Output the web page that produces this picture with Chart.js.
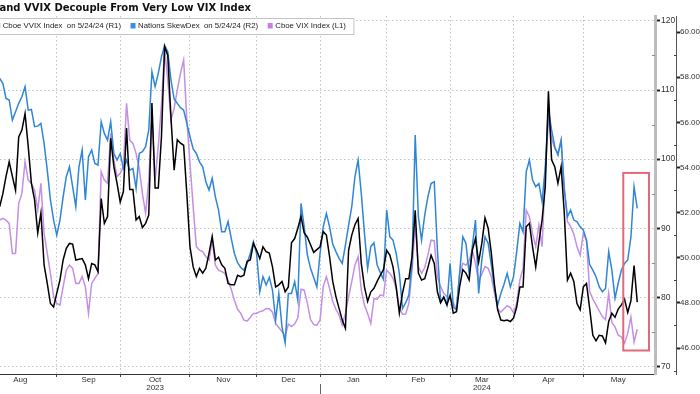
<!DOCTYPE html>
<html>
<head>
<meta charset="utf-8">
<script src="https://cdn.jsdelivr.net/npm/chart.js@4.4.1/dist/chart.umd.min.js"></script>
<style>
  html, body { margin: 0; padding: 0; background: #fff; }
  #wrap { width: 700px; height: 394px; overflow: hidden; }
</style>
</head>
<body>
<div id="wrap"><canvas id="chart" width="700" height="394"></canvas></div>
<script>
// x = trading-day number, 0 = Aug 1 2023
const firstDay = 5;
const monthStarts = [0, 23, 43, 65, 86, 106, 127, 147, 167, 189, 211];
const monthNames = ['Aug', 'Sep', 'Oct', 'Nov', 'Dec', 'Jan', 'Feb', 'Mar', 'Apr', 'May'];
const yearNames = { Oct: '2023', Mar: '2024' };
const r1Ticks = [70, 80, 90, 100, 110, 120];
const r2Ticks = [46, 48, 50, 52, 54, 56, 58, 60];

// Cboe VVIX Index (R1)
const vvix = [
  93.1, 95.0, 97.5, 99.6, 97.5, 95.5, 103.2, 104.2, 106.6, 101.8,
  96.5, 94.1, 89.3, 92.2, 84.7, 82.0, 79.1, 78.6, 80.6, 82.5,
  85.4, 87.1, 87.8, 87.7, 85.4, 85.5, 85.6, 84.7, 82.7, 84.9,
  84.7, 83.7, 94.3, 90.7, 91.7, 103.0, 98.9, 96.5, 93.8, 95.3,
  104.5, 95.6, 95.6, 91.2, 91.7, 90.1, 90.7, 91.9, 108.1, 95.8,
  95.8, 103.2, 116.3, 115.0, 106.0, 98.4, 102.8, 102.3, 102.0, 95.0,
  87.3, 84.4, 83.0, 84.2, 83.5, 84.2, 86.4, 88.8, 85.4, 85.8,
  84.7, 84.2, 82.0, 81.8, 81.8, 83.2, 83.0, 83.2, 85.2, 85.4,
  87.8, 86.8, 85.6, 87.3, 86.6, 86.4, 84.4, 81.5, 81.8, 82.3,
  80.8, 81.5, 87.9, 88.5, 90.0, 91.7, 89.3, 88.7, 87.6, 86.5,
  86.9, 87.3, 89.5, 89.0, 85.9, 82.3, 80.1, 78.4, 76.7, 75.5,
  86.8, 89.0, 90.5, 91.4, 84.9, 81.5, 79.4, 80.8, 81.3, 82.3,
  83.2, 84.0, 86.8, 86.1, 84.4, 81.5, 77.7, 80.6, 82.7, 82.7,
  85.9, 92.6, 83.5, 82.5, 82.7, 84.3, 86.1, 84.9, 80.8, 79.2,
  80.0, 78.9, 80.3, 77.7, 77.9, 81.5, 84.0, 83.5, 82.5, 86.8,
  88.5, 85.1, 87.8, 91.5, 90.0, 86.4, 81.8, 78.2, 76.7, 76.6,
  76.7, 76.5, 77.0, 78.6, 81.5, 81.5, 90.2, 90.7, 87.3, 84.4,
  88.0, 91.2, 96.0, 109.8, 99.9, 98.9, 96.5, 98.9, 92.2, 82.5,
  83.5, 82.3, 79.1, 78.2, 81.5, 82.0, 78.4, 74.5, 73.7, 74.5,
  74.4, 73.4, 76.5, 77.7, 77.1, 78.3, 78.9, 79.7, 77.8, 79.5,
  84.6, 79.3
];

// Nations SkewDex (R2)
const skewDex = [
  57.95, 57.73, 57.06, 56.99, 56.10, 56.47, 56.84, 57.13, 57.58, 56.54,
  56.57, 55.81, 55.83, 55.95, 55.07, 53.88, 52.56, 51.67, 51.00, 51.67,
  52.70, 53.59, 54.03, 53.15, 52.26, 54.03, 54.77, 52.56, 54.48, 54.77,
  54.18, 54.11, 56.03, 55.51, 55.21, 56.03, 54.62, 54.33, 54.62, 53.96,
  54.33, 53.88, 53.96, 53.07, 54.62, 54.70, 54.92, 55.66, 58.24, 57.58,
  58.17, 58.90, 59.40, 59.13, 57.87, 57.03, 56.84, 56.65, 56.54, 55.95,
  55.36, 54.82, 54.62, 54.25, 54.03, 53.37, 53.00, 53.52, 52.70, 52.11,
  51.15, 51.15, 51.60, 50.86, 50.19, 49.78, 49.57, 49.45, 49.75, 50.19,
  50.71, 50.19, 48.49, 49.16, 48.79, 49.13, 48.57, 47.24, 48.42, 46.94,
  46.23, 48.42, 48.42, 48.94, 48.12, 52.41, 51.37, 50.12, 49.53, 49.13,
  48.71, 50.19, 51.37, 51.96, 51.37, 50.61, 50.27, 49.97, 49.75, 50.56,
  51.45, 52.26, 53.59, 54.33, 52.85, 51.08, 49.53, 50.49, 50.66, 49.68,
  49.34, 49.04, 52.11, 50.93, 50.78, 50.19, 49.31, 47.75, 48.01, 48.35,
  49.75, 55.44, 51.82, 50.78, 51.89, 52.70, 53.29, 53.37, 50.34, 48.05,
  48.27, 47.90, 49.75, 47.83, 47.68, 49.31, 50.93, 50.64, 49.31, 50.49,
  51.67, 48.42, 49.90, 50.93, 50.64, 49.68, 48.64, 47.90, 48.42, 48.83,
  49.31, 48.71, 49.16, 50.27, 51.52, 51.15, 53.81, 54.33, 53.44, 53.15,
  53.29, 52.48, 54.03, 56.54, 55.66, 54.92, 54.55, 55.21, 53.00, 51.82,
  52.11, 51.67, 51.60, 51.37, 51.23, 50.78, 49.70, 49.45, 49.16, 48.72,
  48.49, 48.64, 50.27, 49.45, 48.20, 48.87, 49.45, 49.75, 49.90, 50.90,
  53.15, 52.19
];

// Cboe VIX Index (L1)
const vix = [
  16.18, 16.24, 16.18, 16.07, 15.05, 15.05, 16.75, 17.09, 18.17, 17.54,
  17.43, 17.20, 16.52, 17.43, 15.73, 15.05, 14.37, 13.58, 13.35, 13.29,
  13.92, 14.48, 14.65, 14.54, 14.03, 14.03, 14.26, 13.92, 13.01, 14.03,
  14.20, 14.37, 17.83, 17.54, 17.43, 19.13, 18.22, 17.66, 17.77, 18.00,
  20.15, 18.90, 18.79, 18.45, 17.94, 17.09, 16.41, 17.54, 19.70, 17.54,
  18.68, 20.10, 22.02, 20.95, 19.59, 19.98, 20.61, 21.17, 21.63, 19.59,
  18.11, 16.64, 15.28, 15.16, 15.11, 14.94, 14.82, 15.50, 14.65, 14.48,
  14.43, 14.37, 14.14, 13.83, 13.46, 13.15, 13.01, 12.78, 12.75, 12.87,
  13.01, 13.01, 13.07, 13.10, 13.18, 13.17, 13.05, 12.67, 12.53, 12.39,
  12.24, 12.65, 12.56, 12.65, 12.86, 13.83, 13.80, 13.35, 12.80, 12.63,
  12.61, 12.78, 13.92, 14.26, 13.86, 13.41, 13.15, 12.95, 12.61, 13.01,
  13.58, 14.09, 14.65, 14.94, 13.80, 13.29, 13.01, 12.67, 13.51, 13.49,
  13.64, 13.60, 14.48, 14.37, 14.20, 13.86, 13.21, 12.98, 12.99, 13.35,
  14.48, 16.01, 14.60, 14.37, 14.57, 14.99, 15.50, 15.48, 14.26, 13.92,
  13.69, 13.58, 13.52, 13.38, 13.15, 14.35, 14.71, 14.65, 14.80, 15.16,
  14.71, 14.09, 14.35, 14.60, 14.54, 14.26, 13.69, 13.16, 13.05, 13.17,
  13.27, 13.21, 13.03, 13.35, 14.14, 14.54, 16.52, 16.30, 15.73, 15.28,
  16.01, 15.28, 17.77, 19.59, 18.96, 18.62, 18.45, 18.90, 17.32, 16.13,
  15.96, 15.71, 15.28, 14.99, 15.73, 15.50, 13.75, 13.50, 13.30, 13.10,
  12.90, 12.80, 13.70, 12.70, 12.55, 12.27, 12.21, 12.00, 12.33, 12.89,
  12.04, 12.47
];

// red box drawn round the last weeks (trading days / VVIX units)
const focusDays = [201.6, 209.7];
const focusVvix = [72.3, 98.0];

const legendItems = [
  { label: 'Cboe VVIX Index  on 5/24/24 (R1)', color: '#000000' },
  { label: 'Nations SkewDex  on 5/24/24 (R2)', color: '#3a8ee0' },
  { label: 'Cboe VIX Index (L1)', color: '#c77ee6' }
];

const toPoints = arr => arr.map((v, i) => ({ x: firstDay + i, y: v }));

// month edges get grid lines, month middles get the names
const xTicks = [];
for (let i = 0; i < monthNames.length; i++) {
  if (i > 0) xTicks.push({ value: monthStarts[i], edge: true });
  xTicks.push({ value: (monthStarts[i] + monthStarts[i + 1]) / 2, name: monthNames[i] });
}
xTicks.sort((a, b) => a.value - b.value);

Chart.defaults.font.family = '"Liberation Sans", Arial, sans-serif';
Chart.defaults.font.size = 8;
Chart.defaults.color = '#333';

const decor = {
  id: 'decor',
  afterDraw(chart) {
    const ctx = chart.ctx;
    const { x, yR1, yR2 } = chart.scales;
    const area = chart.chartArea;
    ctx.save();

    // minor ticks
    ctx.lineWidth = 1;
    ctx.strokeStyle = '#8a8a8a';
    for (let v = 75; v < 120; v += 10) {
      const py = Math.round(yR1.getPixelForValue(v)) + 0.5;
      ctx.beginPath(); ctx.moveTo(yR1.left - 3, py); ctx.lineTo(yR1.left, py); ctx.stroke();
    }
    ctx.strokeStyle = '#444';
    for (let v = 45; v < 61; v += 2) {
      const py = Math.round(yR2.getPixelForValue(v)) + 0.5;
      ctx.beginPath(); ctx.moveTo(yR2.left - 2, py); ctx.lineTo(yR2.left + 1, py); ctx.stroke();
    }

    // year separator under Dec / Jan
    const sx = Math.round(x.getPixelForValue(monthStarts[5])) + 0.5;
    ctx.strokeStyle = '#666';
    ctx.beginPath(); ctx.moveTo(sx, area.bottom + 10); ctx.lineTo(sx, chart.height); ctx.stroke();

    // red highlight box
    const bx1 = x.getPixelForValue(focusDays[0]);
    const bx2 = x.getPixelForValue(focusDays[1]);
    const by1 = yR1.getPixelForValue(focusVvix[1]);
    const by2 = yR1.getPixelForValue(focusVvix[0]);
    ctx.strokeStyle = '#e0697b';
    ctx.lineWidth = 2;
    ctx.strokeRect(bx1, by1, bx2 - bx1, by2 - by1);

    // title (left part cut off like the source)
    ctx.fillStyle = '#111';
    ctx.font = 'bold 10px "DejaVu Sans"';
    ctx.textBaseline = 'middle';
    ctx.fillText('and VVIX Decouple From Very Low VIX Index', -0.5, 8);

    // legend
    ctx.font = '7.8px "Liberation Sans"';
    let lx = -4.9;
    const ly = 26;
    const spots = legendItems.map(item => {
      const w = ctx.measureText(item.label).width;
      const spot = { item, sq: lx, tx: lx + 7.6 };
      lx = spot.tx + w + 9.5;
      return spot;
    });
    const boxRight = lx - 1.5;
    ctx.fillStyle = '#fff';
    ctx.fillRect(-2, 18, boxRight + 2, 16);
    ctx.strokeStyle = '#c4c4c4';
    ctx.lineWidth = 1;
    ctx.strokeRect(-2.5, 18.5, boxRight + 2.5, 16);
    spots.forEach(s => {
      ctx.fillStyle = s.item.color;
      ctx.fillRect(s.sq, ly - 3, 5, 5.5);
      ctx.fillStyle = '#222';
      ctx.fillText(s.item.label, s.tx, ly);
    });
    ctx.restore();
  }
};

new Chart(document.getElementById('chart'), {
  type: 'line',
  data: {
    datasets: [
      { label: 'Cboe VVIX Index', data: toPoints(vvix), yAxisID: 'yR1', borderColor: '#000', borderWidth: 1.5, order: 0 },
      { label: 'Nations SkewDex', data: toPoints(skewDex), yAxisID: 'yR2', borderColor: '#2f86d6', borderWidth: 1.5, order: 1 },
      { label: 'Cboe VIX Index', data: toPoints(vix), yAxisID: 'yL1', borderColor: '#c48fe4', borderWidth: 1.5, order: 2 }
    ]
  },
  options: {
    responsive: false,
    animation: false,
    events: [],
    layout: { padding: { top: 16, left: 0, right: 0, bottom: 0 }, autoPadding: false },
    elements: { point: { radius: 0 }, line: { tension: 0 } },
    plugins: { legend: { display: false }, tooltip: { enabled: false }, title: { display: false } },
    scales: {
      x: {
        type: 'linear',
        min: 5.1,
        max: 211.6,
        afterBuildTicks: s => { s.ticks = xTicks.map(t => Object.assign({}, t)); },
        afterFit: s => { s.height = 20; },
        grid: {
          color: c => (c.tick && c.tick.edge ? '#c2c2c2' : 'rgba(0,0,0,0)'),
          tickColor: c => (c.tick && c.tick.edge ? '#444' : 'rgba(0,0,0,0)'),
          tickLength: 3,
          lineWidth: 1
        },
        border: { display: true, color: '#333', width: 1, dash: [1.5, 2.5] },
        ticks: {
          autoSkip: false,
          maxRotation: 0,
          padding: -1.5,
          color: '#333',
          font: { size: 8, lineHeight: 1.05 },
          callback: (value, index, ticks) => {
            const t = ticks[index];
            if (!t.name) return '';
            return yearNames[t.name] ? [t.name, yearNames[t.name]] : t.name;
          }
        }
      },
      yR1: {
        position: 'right',
        min: 68.9,
        max: 120.71,
        afterBuildTicks: s => { s.ticks = r1Ticks.map(v => ({ value: v })); },
        afterFit: s => { s.width = 21; },
        grid: { color: '#c2c2c2', lineWidth: 1, tickLength: 5, tickWidth: 2, tickColor: '#222' },
        border: { color: '#bdbdbd', width: 3, dash: [1.5, 2.5] },
        ticks: { padding: 1, color: '#333', font: { size: 8.5 } }
      },
      yR2: {
        position: 'right',
        min: 44.85,
        max: 60.71,
        afterBuildTicks: s => { s.ticks = r2Ticks.map(v => ({ value: v })); },
        afterFit: s => { s.width = 24; },
        grid: { drawOnChartArea: false, tickLength: 4, tickWidth: 2, tickColor: '#222' },
        border: { color: '#555', width: 1 },
        ticks: { padding: 0, color: '#333', font: { size: 8 }, callback: v => Number(v).toFixed(2) }
      },
      yL1: { position: 'left', display: false, min: 10.95, max: 23.12 }
    }
  },
  plugins: [decor]
});
</script>
</body>
</html>
